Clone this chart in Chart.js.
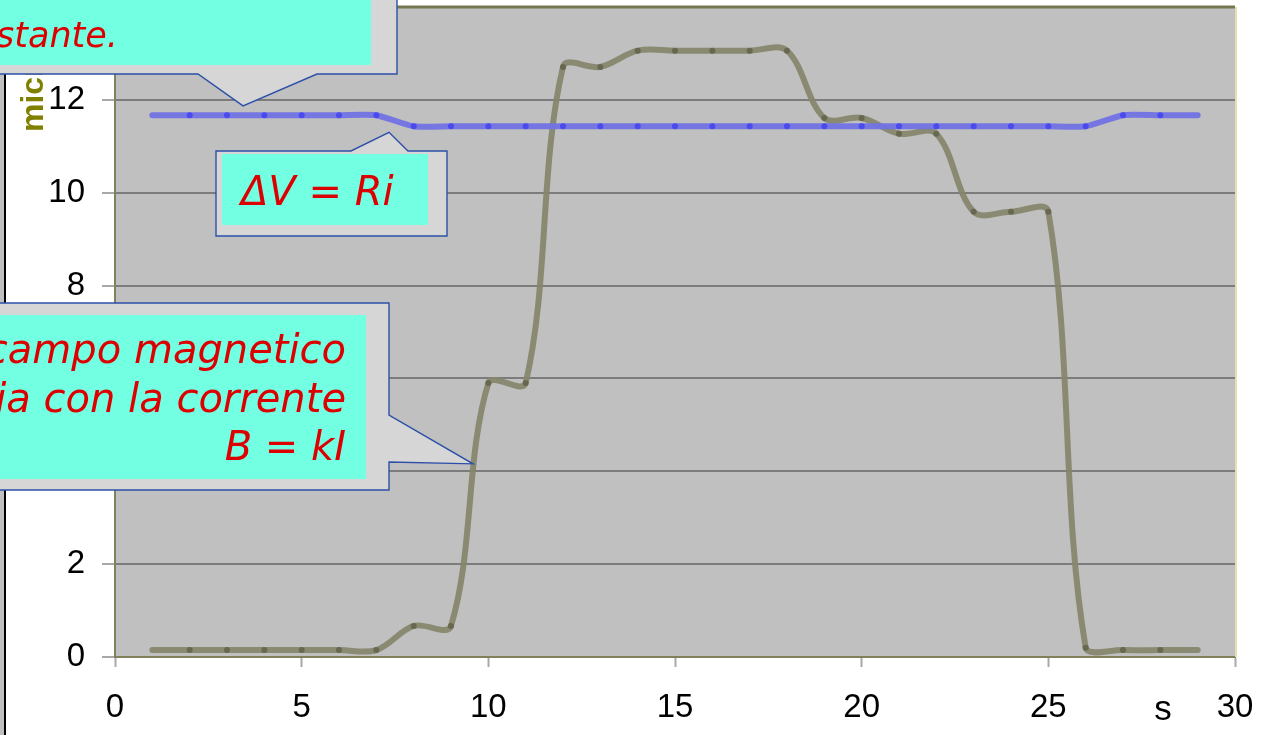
<!DOCTYPE html>
<html>
<head>
<meta charset="utf-8">
<title>Campo magnetico e tensione nel tempo</title>
<script src="https://cdn.jsdelivr.net/npm/chart.js@4.4.1/dist/chart.umd.min.js"></script>
<style>
  html, body { margin: 0; padding: 0; background: #fff; }
  #wrap { width: 1287px; height: 735px; }
</style>
</head>
<body>
<div id="wrap"><canvas id="chart" width="1287" height="735"></canvas></div>
<script>
// time in seconds
const times = [1, 2, 3, 4, 5, 6, 7, 8, 9, 10, 11, 12, 13, 14, 15, 16, 17, 18, 19, 20, 21, 22, 23, 24, 25, 26, 27, 28, 29];
// magnetic field (microtesla)
const fieldValues = [0.15, 0.15, 0.15, 0.15, 0.15, 0.15, 0.15, 0.67, 0.67, 5.9, 5.9, 12.71, 12.71, 13.06, 13.06,
  13.06, 13.06, 13.06, 11.61, 11.61, 11.27, 11.27, 9.59, 9.59, 9.59, 0.2, 0.15, 0.15, 0.15];
// voltage, same scale
const voltageValues = [11.67, 11.67, 11.67, 11.67, 11.67, 11.67, 11.67, 11.43, 11.43, 11.43, 11.43, 11.43, 11.43, 11.43, 11.43,
  11.43, 11.43, 11.43, 11.43, 11.43, 11.43, 11.43, 11.43, 11.43, 11.43, 11.43, 11.67, 11.67, 11.67];
const yTicks = [0, 2, 4, 6, 8, 10, 12, 14];
const xTicks = [0, 5, 10, 15, 20, 25, 30];
const xUnit = 's';
const yTitle = 'microTesla';

// callout texts, and the data point each pointer aims at
const topNote = ['La tensione resta', 'costante.'];
const topAnchor = { x: 3.43, y: 11.87 };
const ohmNote = 'ΔV = Ri';
const ohmAnchor = { x: 7.34, y: 11.3 };
const fieldNote = ['Il campo magnetico', 'varia con la corrente', 'B = kI'];
const fieldAnchor = { x: 9.59, y: 4.16 };

const toPoints = (vals) => times.map((t, i) => ({ x: t, y: vals[i] }));
const hideEnds = (n) => (ctx) => (ctx.dataIndex === 0 || ctx.dataIndex === n - 1 ? 0 : 3);

function calloutPath(ctx, pts) {
    ctx.beginPath();
    ctx.moveTo(pts[0][0], pts[0][1]);
    for (let i = 1; i < pts.length; i++) ctx.lineTo(pts[i][0], pts[i][1]);
    ctx.closePath();
    ctx.fillStyle = '#d6d6d6';
    ctx.fill();
    ctx.strokeStyle = '#2c50a8';
    ctx.lineWidth = 1.4;
    ctx.stroke();
}

const decorations = {
    id: 'decorations',
    beforeDraw(chart) {
        const { ctx, chartArea: a } = chart;
        ctx.save();
        ctx.fillStyle = '#c0c0c0';
        ctx.fillRect(a.left, a.top, a.right - a.left, a.bottom - a.top);
        ctx.restore();
    },
    afterDraw(chart) {
        const { ctx, chartArea: a } = chart;
        const xs = chart.scales.x, ys = chart.scales.y;
        ctx.save();

        // frame: top and right edges
        ctx.strokeStyle = '#77774f';
        ctx.lineWidth = 3;
        ctx.beginPath(); ctx.moveTo(a.left, a.top); ctx.lineTo(a.right, a.top); ctx.stroke();
        ctx.strokeStyle = '#e2e2b0';
        ctx.lineWidth = 2;
        ctx.beginPath(); ctx.moveTo(a.right + 1, a.top); ctx.lineTo(a.right + 1, a.bottom); ctx.stroke();

        // left strip
        ctx.fillStyle = '#c0c0c0';
        ctx.fillRect(0, 0, 4, 735);
        ctx.fillStyle = '#000';
        ctx.fillRect(4, 0, 2, 735);

        // unit under x axis
        ctx.font = '35px "Liberation Sans", Arial, sans-serif';
        ctx.fillStyle = '#000';
        ctx.textAlign = 'center';
        ctx.textBaseline = 'alphabetic';
        ctx.fillText(xUnit, 1163, 720);

        // y title
        ctx.save();
        ctx.translate(43, 132);
        ctx.rotate(-Math.PI / 2);
        ctx.font = 'bold 32px "Liberation Sans", Arial, sans-serif';
        ctx.fillStyle = '#808000';
        ctx.textAlign = 'left';
        ctx.fillText(yTitle, 0, 0);
        ctx.restore();

        // top callout
        let tx = xs.getPixelForValue(topAnchor.x), ty = ys.getPixelForValue(topAnchor.y);
        calloutPath(ctx, [[-10, -10], [397, -10], [397, 74], [317, 74], [tx, ty], [198, 74], [-10, 74]]);
        ctx.fillStyle = '#72ffe2';
        ctx.fillRect(-10, -10, 381, 75);
        ctx.font = 'italic 35px "DejaVu Sans", Verdana, sans-serif';
        ctx.fillStyle = '#dd0000';
        ctx.textAlign = 'right';
        ctx.fillText(topNote[0], 330, -2);
        ctx.fillText(topNote[1], 118, 47);

        ctx.font = 'italic 40px "DejaVu Sans", Verdana, sans-serif';

        // ohm callout
        tx = xs.getPixelForValue(ohmAnchor.x); ty = ys.getPixelForValue(ohmAnchor.y);
        calloutPath(ctx, [[216, 151], [351, 151], [tx, ty], [408, 151], [447, 151], [447, 236], [216, 236]]);
        ctx.fillStyle = '#72ffe2';
        ctx.fillRect(222, 154, 206, 71);
        ctx.fillStyle = '#dd0000';
        ctx.textAlign = 'left';
        ctx.fillText(ohmNote, 241, 205);

        // field callout
        tx = xs.getPixelForValue(fieldAnchor.x); ty = ys.getPixelForValue(fieldAnchor.y);
        calloutPath(ctx, [[-10, 303], [389, 303], [389, 415], [tx, ty], [389, 462], [389, 490], [-10, 490]]);
        ctx.fillStyle = '#72ffe2';
        ctx.fillRect(-10, 315, 376, 164);
        ctx.fillStyle = '#dd0000';
        ctx.textAlign = 'right';
        ctx.fillText(fieldNote[0], 346, 363);
        ctx.fillText(fieldNote[1], 346, 412);
        ctx.fillText(fieldNote[2], 346, 460);

        ctx.restore();
    }
};

const tickFont = { family: '"Liberation Sans", Arial, sans-serif', size: 33 };

new Chart(document.getElementById('chart').getContext('2d'), {
    type: 'line',
    data: {
        datasets: [{
            label: 'ΔV',
            data: toPoints(voltageValues),
            borderColor: 'rgba(114, 114, 228, 0.95)',
            borderWidth: 6,
            borderCapStyle: 'round',
            borderJoinStyle: 'round',
            pointRadius: hideEnds(times.length),
            pointBackgroundColor: '#4a4aee',
            pointBorderWidth: 0,
            tension: 0.2,
            order: 0
        }, {
            label: 'B',
            data: toPoints(fieldValues),
            borderColor: 'rgba(134, 134, 108, 0.92)',
            borderWidth: 6,
            borderCapStyle: 'round',
            borderJoinStyle: 'round',
            pointRadius: hideEnds(times.length),
            pointBackgroundColor: '#686850',
            pointBorderWidth: 0,
            tension: 0.35,
            order: 1
        }]
    },
    options: {
        responsive: false,
        animation: false,
        layout: { padding: { top: 7, right: 52, left: 0, bottom: 0 } },
        plugins: { legend: { display: false }, tooltip: { enabled: false } },
        scales: {
            x: {
                type: 'linear',
                min: 0,
                max: 30,
                afterBuildTicks: (scale) => { scale.ticks = xTicks.map(v => ({ value: v })); },
                afterFit: (scale) => { scale.height = 78; scale.paddingLeft = 0; scale.paddingRight = 0; },
                ticks: { font: tickFont, color: '#000', padding: 21, maxRotation: 0 },
                grid: { drawOnChartArea: false, drawTicks: true, tickLength: 10, tickColor: '#a8a8a8', tickWidth: 2 },
                border: { color: '#80805a', width: 2 }
            },
            y: {
                min: 0,
                max: 14,
                afterBuildTicks: (scale) => { scale.ticks = yTicks.map(v => ({ value: v })); },
                afterFit: (scale) => { scale.width = 115; scale.paddingTop = 0; scale.paddingBottom = 0; },
                ticks: { font: tickFont, color: '#000', padding: 17 },
                grid: { color: '#7c7c7c', lineWidth: 2, tickLength: 13, tickColor: '#a8a8a8', tickWidth: 2 },
                border: { color: '#80805a', width: 2 }
            }
        }
    },
    plugins: [decorations]
});
</script>
</body>
</html>
